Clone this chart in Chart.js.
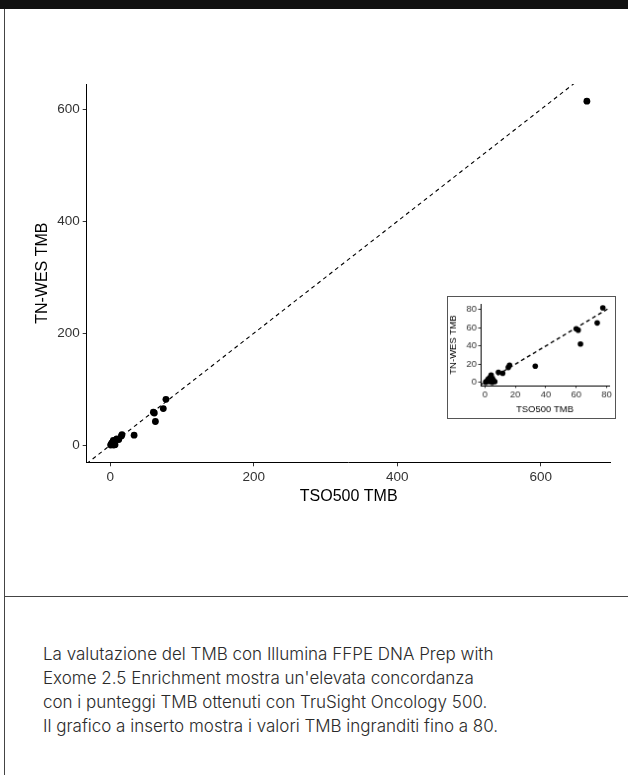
<!DOCTYPE html>
<html>
<head>
<meta charset="utf-8">
<script src="https://cdn.jsdelivr.net/npm/chart.js@4.4.1/dist/chart.umd.min.js"></script>
<style>
  body { margin: 0; background: #fff; }
  #page { position: relative; width: 628px; height: 775px; overflow: hidden; background: #fff; }
  #topbar { position: absolute; left: 0; top: 0; width: 628px; height: 9px; background: #111; }
  #leftline { position: absolute; left: 4px; top: 9px; width: 1px; height: 766px; background: #444; }
  #rule { position: absolute; left: 4px; top: 596px; width: 624px; height: 1px; background: #444; }
  #main { position: absolute; left: 0; top: 0; }
  #inset { position: absolute; left: 447px; top: 296px; border: 1px solid #555; background: #fff; }
  #caption { position: absolute; left: 43px; top: 642px; width: 580px; white-space: nowrap;
    font-family: Inter, "Noto Sans", sans-serif; font-weight: 300; font-size: 17px; line-height: 24px; color: #2a2a2a; }
</style>
</head>
<body>
<div id="page">
  <div id="topbar"></div>
  <div id="leftline"></div>
  <canvas id="main" width="628" height="520"></canvas>
  <canvas id="inset" width="169" height="123"></canvas>
  <div id="rule"></div>
  <div id="caption">La valutazione del TMB con Illumina FFPE DNA Prep with<br>Exome 2.5 Enrichment mostra un'elevata concordanza<br>con i punteggi TMB ottenuti con TruSight Oncology 500.<br>Il grafico a inserto mostra i valori TMB ingranditi fino a 80.</div>
</div>
<script>
/* TMB values: TSO500 (x) vs TN-WES (y) */
var tso500 = [664.5, 77.5, 73.8, 60.0, 61.3, 62.8, 33.1, 16.2, 15.4, 8.9, 11.7, 4.1, 3.5, 4.8, 2.0, 0.9, 5.6, 3.0, 4.8, 6.5, 0.5, 2.4];
var tnwes  = [615.0, 81.9, 65.3, 58.9, 57.4, 42.2, 17.8, 18.8, 16.4, 11.0, 10.0, 8.2, 5.7, 3.9, 2.9, 1.1, 2.5, 0.8, 0.1, 0.8, 0.1, 3.9];

var mainTicks = [0, 200, 400, 600];
var insetTicks = [0, 20, 40, 60, 80];
var insetMaxX = 80;

var xTitle = "TSO500 TMB";
var yTitle = "TN-WES TMB";

// axis limits (ggplot style, 5% expansion)
var mainX = [-33, 697.7];
var mainY = [-30.75, 645.75];
var insetX = [-2.8, 81.6];
var insetY = [-3.5, 86];

var allPts = [];
var insetPts = [];
for (i = 0; i < tso500.length; i++) {
    allPts.push({x: tso500[i], y: tnwes[i]});
    if (tso500[i] <= insetMaxX) insetPts.push({x: tso500[i], y: tnwes[i]});
}

// y = x reference line across the plot
function diag(xl, yl) {
    var lo = Math.min(xl[0], yl[0]);
    var hi = Math.max(xl[1], yl[1]);
    return [{x: lo, y: lo}, {x: hi, y: hi}];
}

function makeScale(lim, ticks, title, opts) {
    return {
        type: "linear",
        min: lim[0],
        max: lim[1],
        afterBuildTicks: function (s) { s.ticks = ticks.map(function (v) { return {value: v}; }); },
        afterFit: opts.fit,
        border: {display: true, color: "#000", width: 1},
        grid: {display: true, drawOnChartArea: false, drawTicks: true, tickLength: opts.tickLen, color: "#333", lineWidth: 1},
        ticks: {color: "#333", padding: opts.tickPad, maxRotation: 0, autoSkip: false,
                font: {family: "'Liberation Sans', Arial, sans-serif", size: opts.tickSize}},
        title: {display: true, text: title, color: "#000", padding: opts.titlePad,
                font: {family: "'Liberation Sans', Arial, sans-serif", size: opts.titleSize}}
    };
}

var ctx0 = document.getElementById("main");
var mainChart = new Chart(ctx0, {
    "type": "scatter",
    "data": {
        "datasets": [{
            "type": "line",
            "data": diag(mainX, mainY),
            "borderColor": "#000",
            "borderWidth": 1.1,
            "borderDash": [4, 3.5],
            "pointRadius": 0,
            "fill": false
        }, {
            "data": allPts,
            "backgroundColor": "#000",
            "borderWidth": 0,
            "pointRadius": 3.4
        }]
    },
    "options": {
        "responsive": false,
        "animation": false,
        "events": [],
        "layout": {"padding": {"left": 0, "right": 17.3, "top": 84, "bottom": 0}},
        "plugins": {"legend": {"display": false}, "tooltip": {"enabled": false}},
        "scales": {
            "x": makeScale(mainX, mainTicks, xTitle, {tickLen: 4, tickPad: 3, tickSize: 13.5, titleSize: 16,
                titlePad: {top: 0, bottom: 13.4}, fit: function (s) { s.height = 57.7; }}),
            "y": makeScale(mainY, mainTicks, yTitle, {tickLen: 4, tickPad: 3, tickSize: 13.5, titleSize: 16,
                titlePad: {top: 33.4, bottom: 0}, fit: function (s) { s.width = 86.7; }})
        }
    }
});

var ctx1 = document.getElementById("inset");
var insetChart = new Chart(ctx1, {
    "type": "scatter",
    "data": {
        "datasets": [{
            "type": "line",
            "data": diag(insetX, insetY),
            "borderColor": "#000",
            "borderWidth": 1.4,
            "borderDash": [4, 3],
            "pointRadius": 0,
            "fill": false
        }, {
            "data": insetPts,
            "backgroundColor": "#000",
            "borderWidth": 0,
            "pointRadius": 2.8
        }]
    },
    "options": {
        "responsive": false,
        "animation": false,
        "events": [],
        "layout": {"padding": {"left": 0, "right": 6, "top": 5.3, "bottom": 0}},
        "plugins": {"legend": {"display": false}, "tooltip": {"enabled": false}},
        "scales": {
            "x": makeScale(insetX, insetTicks, xTitle, {tickLen: 2.5, tickPad: 1.5, tickSize: 9.5, titleSize: 9.5,
                titlePad: {top: 0, bottom: 2.5}, fit: function (s) { s.height = 33; }}),
            "y": makeScale(insetY, insetTicks, yTitle, {tickLen: 2.5, tickPad: 1.5, tickSize: 9.5, titleSize: 9.5,
                titlePad: {top: 0, bottom: 0}, fit: function (s) { s.width = 33; }})
        }
    }
});
</script>
</body>
</html>
